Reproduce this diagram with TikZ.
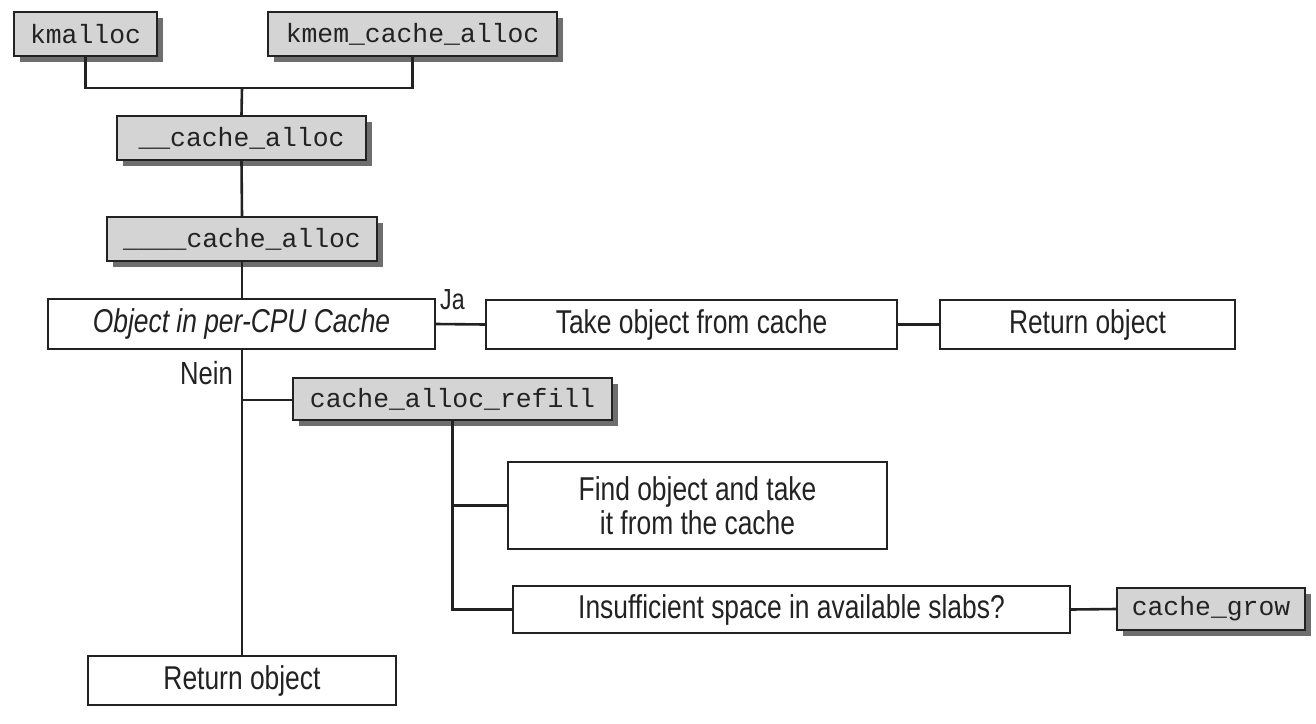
\documentclass[tikz,border=0pt]{standalone}
\usepackage{fontspec}
\setmainfont{Liberation Sans}[FakeStretch=0.8]
\setmonofont{Liberation Mono}
\usetikzlibrary{shadows}
\definecolor{boxgray}{HTML}{D4D4D4}
\definecolor{shadowgray}{HTML}{6E6E6E}
\definecolor{ink}{HTML}{222222}
\begin{document}
\begin{tikzpicture}[x=1pt,y=-1pt,
  conn/.style={draw=ink,line width=2.6pt},
  codebox/.style={draw=ink,line width=2pt,fill=boxgray,inner sep=0pt,
    minimum height=44pt,font=\ttfamily\fontsize{26.4}{30}\selectfont,text=ink,
    general shadow={fill=shadowgray,shadow xshift=6pt,shadow yshift=-6pt}},
  plainbox/.style={draw=ink,line width=2pt,fill=white,inner sep=0pt,
    minimum height=49pt,font=\fontsize{33}{34}\selectfont,text=ink,align=center},
  lbl/.style={inner sep=0pt,text=ink}
]
\useasboundingbox (0,0) rectangle (1316,723);
\fill[white] (0,0) rectangle (1316,723);

% nodes
\node[codebox,minimum width=143pt] (kmalloc) at (85.5,34) {kmalloc};
\node[codebox,minimum width=289pt] (kmem) at (412.5,34) {kmem\_cache\_alloc};
\node[codebox,minimum width=249pt] (ca1) at (241.5,138) {\_\_cache\_alloc};
\node[codebox,minimum width=270pt] (ca2) at (242,239) {\_\_\_\_cache\_alloc};
\node[plainbox,minimum width=387pt,minimum height=50pt] (obj) at (241.5,324) {\itshape Object in per-CPU Cache};
\node[plainbox,minimum width=411pt] (take) at (691.5,324.5) {Take object from cache};
\node[plainbox,minimum width=295pt] (ret1) at (1087.5,324.5) {Return object};
\node[codebox,minimum width=319pt,minimum height=42pt] (refill) at (452.5,399) {cache\_alloc\_refill};
\node[plainbox,minimum width=379pt,minimum height=87pt] (find) at (697.5,505.5) {Find object and take\\it from the cache};
\node[plainbox,minimum width=557pt,minimum height=47pt] (insuff) at (791.5,609.5) {Insufficient space in available slabs?};
\node[codebox,minimum width=188pt,minimum height=42pt] (grow) at (1211,609) {cache\_grow};
\node[plainbox,minimum width=308pt] (ret2) at (242,680.5) {Return object};

% labels
\node[lbl,font=\fontsize{29}{30}\selectfont,anchor=base west] (ja) at (440,309) {Ja};
\node[lbl,font=\fontsize{32}{34}\selectfont,anchor=base east] (nein) at (233,384) {Nein};

% junction coordinates
\coordinate (j1) at (242,88);
\coordinate (j2) at (242,400);
\coordinate (j3) at (452.5,505.5);
\coordinate (j4) at (452.5,609.5);

% connectors
\draw[conn] (kmalloc.south) |- (j1) -| (kmem.south);
\draw[conn] (j1) -- (ca1.north);
\draw[conn] (ca1.south) -- (ca2.north);
\draw[conn] (ca2.south) -- (obj.north -| ca2.south);
\draw[conn] (obj.east) -- (take.west);
\draw[conn] (take.east) -- (ret1.west);
\draw[conn] (obj.south -| ret2.north) -- (ret2.north);
\draw[conn] (j2) -- (refill.west |- j2);
\draw[conn] (refill.south) -- (j4) -- (insuff.west);
\draw[conn] (j3) -- (find.west);
\draw[conn] (insuff.east) -- (grow.west);
\end{tikzpicture}
\end{document}
